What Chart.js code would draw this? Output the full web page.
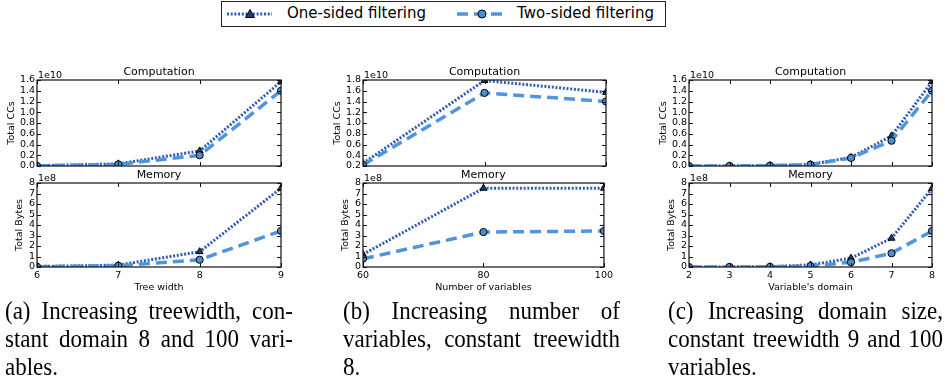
<!DOCTYPE html>
<html><head><meta charset="utf-8">
<script src="https://cdn.jsdelivr.net/npm/chart.js@4.4.0/dist/chart.umd.min.js"></script>
<style>
html,body{margin:0;padding:0;background:#fff;}
body{width:945px;height:387px;position:relative;overflow:hidden;font-family:"DejaVu Sans",sans-serif;}
canvas{position:absolute;}
.legend{position:absolute;left:221px;top:1px;width:443px;height:24px;border:1px solid #222;background:#fff;}
.cap{position:absolute;top:297px;font-family:"Liberation Serif","Times New Roman",serif;font-size:23px;line-height:28px;color:#000;}
.cap div{height:28px;transform:scaleY(1.12);transform-origin:50% 50%;}
.j{text-align:justify;text-align-last:justify;}
</style>
</head><body>
<div class="legend">
 <svg width="443" height="24" style="position:absolute;left:0;top:0">
  <line x1="5" y1="12" x2="50" y2="12" stroke="#2f5cb8" stroke-width="3" stroke-dasharray="2 1.7"/>
  <polygon points="28,7.5 32.5,15.5 23.5,15.5" fill="#1d3f7a" stroke="#000" stroke-width="1"/>
  <text x="65" y="16" font-family="DejaVu Sans" font-size="15" fill="#000">One-sided filtering</text>
  <line x1="235" y1="12" x2="282" y2="12" stroke="#4f95de" stroke-width="3.5" stroke-dasharray="11 6"/>
  <circle cx="260" cy="12" r="4" fill="#4a8fd6" stroke="#000" stroke-width="1"/>
  <text x="295" y="16" font-family="DejaVu Sans" font-size="15" fill="#000">Two-sided filtering</text>
 </svg>
</div>

<canvas id="ca"></canvas><canvas id="ma"></canvas>
<canvas id="cb"></canvas><canvas id="mb"></canvas>
<canvas id="cc"></canvas><canvas id="mc"></canvas>

<div class="cap" style="left:5px;width:288px">
 <div class="j">(a) Increasing treewidth, con-</div>
 <div class="j">stant domain 8 and 100 vari-</div>
 <div>ables.</div>
</div>
<div class="cap" style="left:343px;width:277px">
 <div class="j">(b) Increasing number of</div>
 <div class="j">variables, constant treewidth</div>
 <div>8.</div>
</div>
<div class="cap" style="left:668px;width:275px">
 <div class="j">(c) Increasing domain size,</div>
 <div class="j">constant treewidth 9 and 100</div>
 <div>variables.</div>
</div>

<script>
// ---- data (computation in units of 1e10 CCs, memory in units of 1e8 bytes) ----
const treeWidths = [6, 7, 8, 9];
const compOneA = [0.005, 0.04, 0.28, 1.57];
const compTwoA = [0.003, 0.03, 0.20, 1.40];
const memOneA  = [0.05, 0.18, 1.46, 7.5];
const memTwoA  = [0.03, 0.12, 0.69, 3.43];

const numVariables = [60, 80, 100];
const compOneB = [0.25, 1.79, 1.57];
const compTwoB = [0.22, 1.56, 1.40];
const memOneB  = [1.2, 7.5, 7.5];
const memTwoB  = [0.78, 3.33, 3.43];

const domainSizes = [2, 3, 4, 5, 6, 7, 8];
const compOneC = [0.0005, 0.002, 0.008, 0.03, 0.16, 0.56, 1.57];
const compTwoC = [0.0004, 0.0015, 0.006, 0.025, 0.15, 0.47, 1.40];
const memOneC  = [0.002, 0.008, 0.03, 0.2, 0.84, 2.74, 7.48];
const memTwoC  = [0.001, 0.005, 0.015, 0.1, 0.45, 1.31, 3.43];

const seriesLabels = ['One-sided filtering', 'Two-sided filtering'];
const xTitles = ['Tree width', 'Number of variables', "Variable's domain"];

Chart.defaults.font.family = '"DejaVu Sans", sans-serif';
Chart.defaults.color = '#000';

const ONE_LINE = '#2f5cb8', ONE_MARK = '#1d3f7a';
const TWO_LINE = '#4f95de', TWO_MARK = '#4a8fd6';

const framePlugin = {
  id: 'frame',
  afterDatasetsDraw(chart, args, opts) {
    const {ctx, chartArea: a} = chart;
    const x = chart.scales.x, y = chart.scales.y;
    ctx.save();
    ctx.strokeStyle = '#111';
    ctx.lineWidth = 1;
    const L = 4;
    ctx.beginPath();
    x.ticks.forEach(t => {
      const px = Math.round(x.getPixelForValue(t.value)) + 0.5;
      ctx.moveTo(px, a.bottom); ctx.lineTo(px, a.bottom - L);
      ctx.moveTo(px, a.top); ctx.lineTo(px, a.top + L);
    });
    y.ticks.forEach(t => {
      const py = Math.round(y.getPixelForValue(t.value)) + 0.5;
      ctx.moveTo(a.left, py); ctx.lineTo(a.left + L, py);
      ctx.moveTo(a.right, py); ctx.lineTo(a.right - L, py);
    });
    ctx.stroke();
    ctx.lineWidth = 1.2;
    ctx.strokeRect(a.left, a.top, a.right - a.left, a.bottom - a.top);
    ctx.fillStyle = '#000';
    ctx.font = '11px "DejaVu Sans"';
    ctx.textAlign = 'center';
    ctx.textBaseline = 'alphabetic';
    ctx.fillText(opts.title, (a.left + a.right) / 2, a.top - 5);
    ctx.font = '9.5px "DejaVu Sans"';
    ctx.textAlign = 'left';
    ctx.fillText(opts.offset, a.left + 1, a.top - 2);
    ctx.restore();
  }
};

function makeChart(id, xs, one, two, o) {
  const cv = document.getElementById(id);
  const padTop = 14, padRight = 10;
  const xH = o.showX ? 26 : 0;
  const padBottom = o.showX ? 0 : 8;
  cv.width = o.yW + o.w + padRight;
  cv.height = padTop + o.h + xH + padBottom;
  cv.style.left = (o.left - o.yW) + 'px';
  cv.style.top = (o.top - padTop) + 'px';
  const font = {size: 9.5, family: '"DejaVu Sans", sans-serif'};
  new Chart(cv, {
    type: 'line',
    data: {datasets: [
      {label: seriesLabels[0], data: xs.map((v, i) => ({x: v, y: one[i]})), order: 2,
       borderColor: ONE_LINE, borderWidth: 3, borderDash: [2, 1.7], tension: 0, fill: false,
       pointStyle: 'triangle', pointRadius: 4, pointBackgroundColor: ONE_MARK, pointBorderColor: '#000', pointBorderWidth: 1, clip: 0},
      {label: seriesLabels[1], data: xs.map((v, i) => ({x: v, y: two[i]})), order: 1,
       borderColor: TWO_LINE, borderWidth: 3.5, borderDash: [11, 6], tension: 0, fill: false,
       pointStyle: 'circle', pointRadius: 3.6, pointBackgroundColor: TWO_MARK, pointBorderColor: '#000', pointBorderWidth: 1, clip: 0}
    ]},
    options: {
      responsive: false, animation: false, devicePixelRatio: 1,
      layout: {padding: {top: padTop, right: padRight, bottom: padBottom, left: 0}},
      plugins: {legend: {display: false}, tooltip: {enabled: false}, frame: {title: o.title, offset: o.offset}},
      scales: {
        x: {type: 'linear', min: xs[0], max: xs[xs.length - 1],
            ticks: {stepSize: o.xstep, display: o.showX, padding: 3, font, color: '#000', maxRotation: 0, autoSkip: false,
                    callback: v => String(v)},
            grid: {display: false, drawTicks: false}, border: {display: false},
            title: {display: o.showX, text: o.xtitle, font, color: '#000', padding: 0},
            afterFit: s => { s.height = xH; }},
        y: {type: 'linear', min: o.ymin, max: o.ymax,
            ticks: {stepSize: o.ystep, padding: 2, font, color: '#000', autoSkip: false,
                    callback: v => o.dec ? v.toFixed(1) : String(Math.round(v))},
            grid: {display: false, drawTicks: false}, border: {display: false},
            title: {display: true, text: o.ytitle, font, color: '#000', padding: {top: 5.3, bottom: 0}},
            afterFit: s => { s.width = o.yW; }}
      }
    },
    plugins: [framePlugin]
  });
}

const colLeft = [37, 363, 689];
const colW = [244, 243, 243];
const compBase = {top: 80, h: 86, yW: 36, showX: false, title: 'Computation', offset: '1e10', ytitle: 'Total CCs', dec: true, ystep: 0.2};
const memBase  = {top: 183, h: 84, yW: 28, showX: true, title: 'Memory', offset: '1e8', ytitle: 'Total Bytes', dec: false, ymin: 0, ymax: 8, ystep: 1};

makeChart('ca', treeWidths, compOneA, compTwoA, Object.assign({}, compBase, {left: colLeft[0], w: colW[0], xstep: 1, ymin: 0, ymax: 1.6}));
makeChart('ma', treeWidths, memOneA, memTwoA, Object.assign({}, memBase, {left: colLeft[0], w: colW[0], xstep: 1, xtitle: xTitles[0]}));
makeChart('cb', numVariables, compOneB, compTwoB, Object.assign({}, compBase, {left: colLeft[1], w: colW[1], xstep: 20, ymin: 0.2, ymax: 1.8}));
makeChart('mb', numVariables, memOneB, memTwoB, Object.assign({}, memBase, {left: colLeft[1], w: colW[1], xstep: 20, xtitle: xTitles[1]}));
makeChart('cc', domainSizes, compOneC, compTwoC, Object.assign({}, compBase, {left: colLeft[2], w: colW[2], xstep: 1, ymin: 0, ymax: 1.6}));
makeChart('mc', domainSizes, memOneC, memTwoC, Object.assign({}, memBase, {left: colLeft[2], w: colW[2], xstep: 1, xtitle: xTitles[2]}));
</script>
</body></html>
